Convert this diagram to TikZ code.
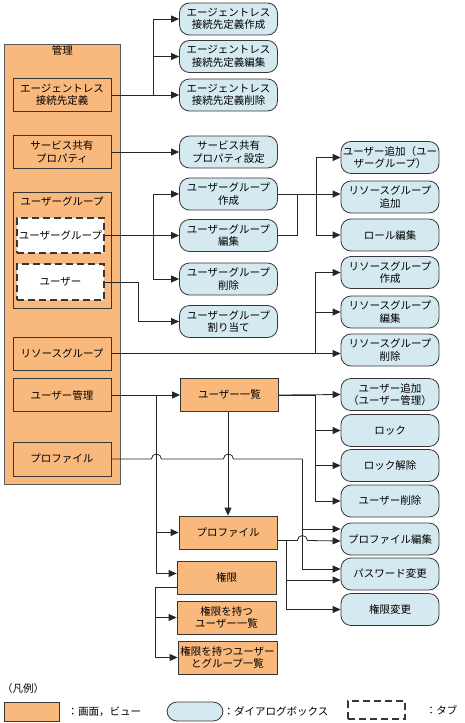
\documentclass[tikz,border=0pt]{standalone}
\usepackage{fontspec}
\setmainfont{Noto Sans CJK JP}
\usetikzlibrary{arrows.meta,positioning}
\definecolor{viewfill}{RGB}{249,184,124}
\definecolor{dlgfill}{RGB}{212,234,240}
\definecolor{boxline}{RGB}{55,55,55}

\begin{document}
\begin{tikzpicture}[x=1pt, y=-1pt,
                   font=\fontsize{10.5}{12.5}\selectfont,
                   box/.style={draw=boxline, line width=0.8pt, inner sep=0pt, align=center, minimum height=33pt},
                   view/.style={box, fill=viewfill, minimum width=98pt},
                   dialog/.style={box, fill=dlgfill, rounded corners=10pt, minimum width=98pt, minimum height=32pt},
                   tab/.style={box, fill=white, line width=1.1pt, dash pattern=on 7pt off 4pt, minimum width=87pt, minimum height=35pt},
                   link/.style={line width=0.8pt, draw=black!85},
                   arr/.style={link, -{Triangle[length=8pt,width=7pt]}}]
  \useasboundingbox (0,0) rectangle (464,723);

  % 管理
  \node[view, draw=black!65, minimum width=116pt, minimum height=440pt, anchor=north west] (kanri) at (4,44) {};
  \node[below=1pt of kanri.north, inner sep=0pt] (kanrititle) {管理};
  \node[view] (agl) at (62,95) {エージェントレス\\接続先定義};
  \node[view] (svc) at (62,152) {サービス共有\\プロパティ};
  \node[view, minimum height=116pt] (ugrp) at (62,250) {};
  \node[below=5pt of ugrp.north, inner sep=0pt] (ugrptitle) {ユーザーグループ};
  \node[tab] (tabug) at (60.5,235.5) {ユーザーグループ};
  \node[tab, minimum height=36pt] (tabusr) at (60.5,282) {ユーザー};
  \node[view] (rsg) at (62,353.5) {リソースグループ};
  \node[view] (usrmgmt) at (62,395) {ユーザー管理};
  \node[view, minimum height=34pt] (prof0) at (62,459) {プロファイル};

  % 1列目
  \node[dialog] (aglnew) at (228.5,19) {エージェントレス\\接続先定義作成};
  \node[dialog] (agledit) at (228.5,56.5) {エージェントレス\\接続先定義編集};
  \node[dialog] (agldel) at (228.5,95) {エージェントレス\\接続先定義削除};
  \node[dialog] (svcset) at (228.5,152) {サービス共有\\プロパティ設定};
  \node[dialog] (ugnew) at (228.5,194) {ユーザーグループ\\作成};
  \node[dialog] (ugedit) at (228.5,235.5) {ユーザーグループ\\編集};
  \node[dialog] (ugdel) at (228.5,279) {ユーザーグループ\\削除};
  \node[dialog] (ugassign) at (228.5,321.5) {ユーザーグループ\\割り当て};
  \node[view] (ulist) at (229.5,395) {ユーザー一覧};
  \node[view] (profv) at (228,532.5) {プロファイル};
  \node[view, minimum width=99pt] (auth) at (226.5,577.5) {権限};
  \node[view, minimum width=99pt] (authusr) at (226.5,617.5) {権限を持つ\\ユーザー一覧};
  \node[view, minimum width=99pt] (authug) at (227.5,657.5) {権限を持つユーザー\\とグループ一覧};

  % 2列目
  \node[dialog] (uadd1) at (390,157.5) {ユーザー追加（ユー\\ザーグループ）};
  \node[dialog] (rgadd) at (390,197) {リソースグループ\\追加};
  \node[dialog] (role) at (390,235) {ロール編集};
  \node[dialog] (rgnew) at (390,272.5) {リソースグループ\\作成};
  \node[dialog] (rgedit) at (390,312) {リソースグループ\\編集};
  \node[dialog] (rgdel) at (390,350) {リソースグループ\\削除};
  \node[dialog] (uadd2) at (390,394.5) {ユーザー追加\\（ユーザー管理）};
  \node[dialog] (lock) at (390,430.5) {ロック};
  \node[dialog] (unlock) at (390,465.5) {ロック解除};
  \node[dialog] (udel) at (390,501) {ユーザー削除};
  \node[dialog] (profedit) at (390,539) {プロファイル編集};
  \node[dialog] (pwd) at (390,574) {パスワード変更};
  \node[dialog] (authchg) at (390,609.5) {権限変更};

  % エージェントレス接続先定義
  \draw[arr] (agl.east) -- (agldel.west);
  \draw[arr] (agl.east) -- ++(42,0) |- (aglnew.west);
  \draw[arr] (agl.east) -- ++(42,0) |- (agledit.west);
  \draw[arr] (svc.east) -- (svcset.west);

  % ユーザーグループ
  \draw[arr] (tabug.east) -- (ugedit.west);
  \draw[arr] (tabug.east) -- ++(49,0) |- (ugnew.west);
  \draw[arr] (tabug.east) -- ++(49,0) |- (ugdel.west);
  \draw[arr] (tabusr.east) -- ++(34,0) |- (ugassign.west);
  \draw[arr] (ugnew.east) -- (ugnew.east -| rgadd.west);
  \draw[link] (ugedit.east) -- ++(19,0) |- (ugnew.east);
  \draw[arr] (ugnew.east) -- ++(38,0) |- (uadd1.west);
  \draw[arr] (ugnew.east) -- ++(38,0) |- (role.west);

  % リソースグループ
  \draw[arr] (rsg.east) -- (rsg.east -| rgdel.west);
  \draw[arr] (rsg.east) -- ++(204,0) |- (rgnew.west);
  \draw[arr] (rsg.east) -- ++(204,0) |- (rgedit.west);

  % ユーザー管理
  \draw[arr] (usrmgmt.east) -- (ulist.west);
  \draw[arr] (usrmgmt.east) -- ++(45,0) |- (profv.west);
  \draw[arr] (usrmgmt.east) -- ++(45,0) |- ([yshift=4pt]auth.west);
  \draw[arr] (ulist.south -| profv.north) -- (profv.north);
  \draw[arr] (ulist.east) -- (uadd2.west);
  \draw[arr] (ulist.east) -- ++(36,0) |- (lock.west);
  \draw[arr] (ulist.east) -- ++(36,0) |- (unlock.west);
  \draw[arr] (ulist.east) -- ++(36,0) |- (udel.west);
  \draw[arr] ([yshift=-10pt]auth.west) -- ++(-21,0) |- (authusr.west);
  \draw[arr] ([yshift=-10pt]auth.west) -- ++(-21,0) |- (authug.west);

  % プロファイル
  \draw[link] (prof0.east) -- ++(40,0) arc[start angle=180, end angle=0, radius=5pt]
    -- ++(62,0) arc[start angle=180, end angle=0, radius=5pt] -- ++(69,0) coordinate (profturn);
  \draw[arr] (profturn) |- ([yshift=10pt]profedit.west);
  \draw[arr] (profturn) |- ([yshift=5pt]pwd.west);
  \draw[arr] ([yshift=-8pt]profv.east) -- ++(20,0) arc[start angle=180, end angle=0, radius=5pt]
    -- ([yshift=-2pt]profedit.west);
  \draw[arr] ([yshift=-8pt]profv.east) -- ++(9,0) |- ([yshift=-6pt]pwd.west);
  \draw[arr] ([yshift=-8pt]profv.east) -- ++(9,0) |- (authchg.west);

  % 凡例
  \node[anchor=west, inner sep=0pt] (hanrei) at (2,689) {（凡例）};
  \node[view, minimum width=55pt, minimum height=19pt] (lgview) at (31.5,711.5) {};
  \node[right=8pt of lgview, inner sep=0pt] (lgviewtxt) {：画面，ビュー};
  \node[dialog, minimum width=56pt, minimum height=19pt] (lgdlg) at (195,711.5) {};
  \node[right=0pt of lgdlg, inner sep=0pt] (lgdlgtxt) {：ダイアログボックス};
  \node[tab, minimum width=57pt, minimum height=18pt] (lgtab) at (376.5,710) {};
  \node[right=20pt of lgtab, inner sep=0pt] (lgtabtxt) {：タブ};
\end{tikzpicture}
\end{document}
